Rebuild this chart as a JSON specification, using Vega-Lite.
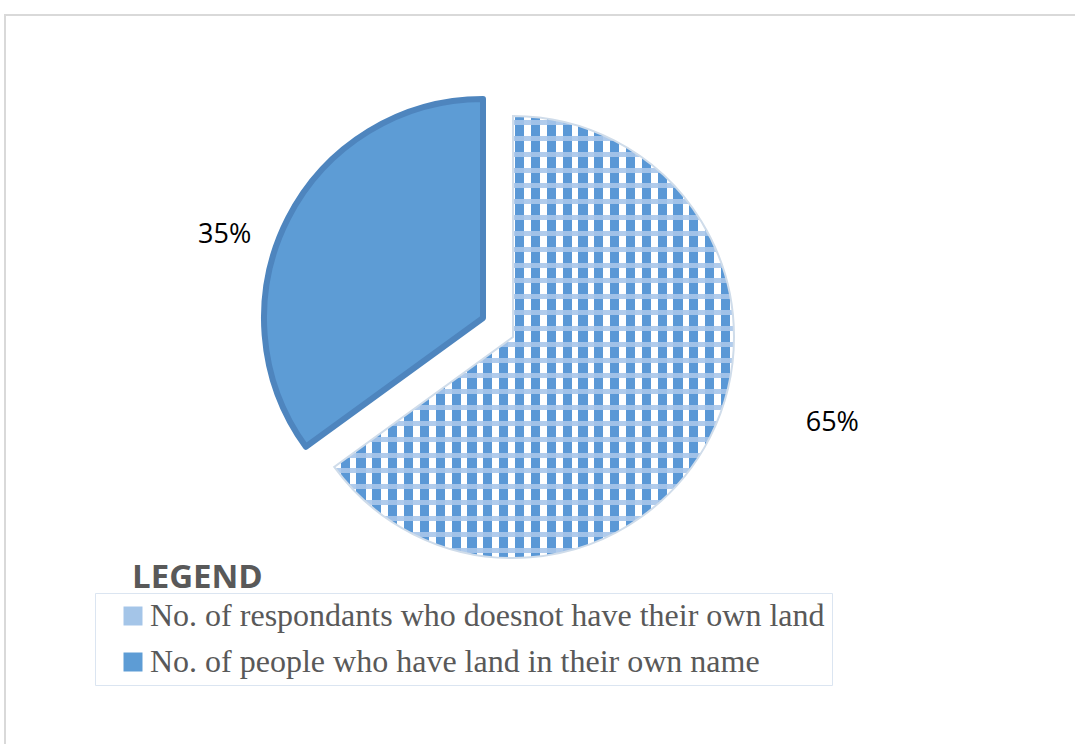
{
  "$schema": "https://vega.github.io/schema/vega-lite/v6.json",
  "width": 1075,
  "height": 744,
  "autosize": {"type": "fit", "contains": "padding"},
  "padding": {"left": 5, "top": 15, "right": -2, "bottom": -2},
  "background": "white",
  "view": {"stroke": "#d9d9d9", "strokeWidth": 2},
  "config": {"view": {"stroke": "#d9d9d9", "strokeWidth": 2}},
  "title": {
    "text": "LEGEND",
    "orient": "none",
    "anchor": "start",
    "font": "Open Sans",
    "fontSize": 33,
    "fontWeight": "bold",
    "color": "#595959",
    "dx": 127,
    "dy": 547
  },
  "data": {
    "values": [
      {"category": "No. of respondants who doesnot have their own land", "share": 0.65},
      {"category": "No. of people who have land in their own name", "share": 0.35}
    ]
  },
  "encoding": {
    "theta": {"field": "share", "type": "quantitative", "stack": true},
    "order": {"field": "share", "type": "quantitative", "sort": "descending"}
  },
  "layer": [
    {
      "mark": {"type": "arc", "outerRadius": 221, "xOffset": -28, "yOffset": -43.5},
      "encoding": {
        "color": {
          "field": "category",
          "type": "nominal",
          "scale": {
            "domain": ["No. of respondants who doesnot have their own land", "No. of people who have land in their own name"],
            "range": ["#a4c5e8", "#5d9cd5"]
          },
          "legend": {
            "orient": "none",
            "legendX": 90,
            "legendY": 578,
            "title": null,
            "labelFont": "Liberation Serif",
            "labelFontSize": 32,
            "labelColor": "#595959",
            "labelLimit": 0,
            "labelOffset": 1,
            "symbolType": "square",
            "symbolSize": 361,
            "symbolStrokeWidth": 0,
            "symbolOffset": 15,
            "rowPadding": 14,
            "padding": 7,
            "strokeColor": "#dbe5f1",
            "fillColor": "white"
          }
        },
        "opacity": {"condition": {"test": "datum.share > 0.5", "value": 1}, "value": 0}
      }
    },
    {
      "mark": {
        "type": "arc", "outerRadius": 221, "xOffset": -28, "yOffset": -43.5,
        "fill": {
          "gradient": "linear", "x1": 0, "y1": 0, "x2": 1, "y2": 0,
          "stops": [
            {"offset": 0, "color": "#ffffff"}, {"offset": 0.0160, "color": "#ffffff"},
            {"offset": 0.0160, "color": "#5a98d6"}, {"offset": 0.0389, "color": "#5a98d6"},
            {"offset": 0.0389, "color": "#ffffff"}, {"offset": 0.0557, "color": "#ffffff"},
            {"offset": 0.0557, "color": "#5a98d6"}, {"offset": 0.0785, "color": "#5a98d6"},
            {"offset": 0.0785, "color": "#ffffff"}, {"offset": 0.0953, "color": "#ffffff"},
            {"offset": 0.0953, "color": "#5a98d6"}, {"offset": 0.1182, "color": "#5a98d6"},
            {"offset": 0.1182, "color": "#ffffff"}, {"offset": 0.1349, "color": "#ffffff"},
            {"offset": 0.1349, "color": "#5a98d6"}, {"offset": 0.1578, "color": "#5a98d6"},
            {"offset": 0.1578, "color": "#ffffff"}, {"offset": 0.1746, "color": "#ffffff"},
            {"offset": 0.1746, "color": "#5a98d6"}, {"offset": 0.1975, "color": "#5a98d6"},
            {"offset": 0.1975, "color": "#ffffff"}, {"offset": 0.2142, "color": "#ffffff"},
            {"offset": 0.2142, "color": "#5a98d6"}, {"offset": 0.2371, "color": "#5a98d6"},
            {"offset": 0.2371, "color": "#ffffff"}, {"offset": 0.2539, "color": "#ffffff"},
            {"offset": 0.2539, "color": "#5a98d6"}, {"offset": 0.2768, "color": "#5a98d6"},
            {"offset": 0.2768, "color": "#ffffff"}, {"offset": 0.2935, "color": "#ffffff"},
            {"offset": 0.2935, "color": "#5a98d6"}, {"offset": 0.3164, "color": "#5a98d6"},
            {"offset": 0.3164, "color": "#ffffff"}, {"offset": 0.3332, "color": "#ffffff"},
            {"offset": 0.3332, "color": "#5a98d6"}, {"offset": 0.3561, "color": "#5a98d6"},
            {"offset": 0.3561, "color": "#ffffff"}, {"offset": 0.3728, "color": "#ffffff"},
            {"offset": 0.3728, "color": "#5a98d6"}, {"offset": 0.3957, "color": "#5a98d6"},
            {"offset": 0.3957, "color": "#ffffff"}, {"offset": 0.4125, "color": "#ffffff"},
            {"offset": 0.4125, "color": "#5a98d6"}, {"offset": 0.4353, "color": "#5a98d6"},
            {"offset": 0.4353, "color": "#ffffff"}, {"offset": 0.4521, "color": "#ffffff"},
            {"offset": 0.4521, "color": "#5a98d6"}, {"offset": 0.4750, "color": "#5a98d6"},
            {"offset": 0.4750, "color": "#ffffff"}, {"offset": 0.4918, "color": "#ffffff"},
            {"offset": 0.4918, "color": "#5a98d6"}, {"offset": 0.5146, "color": "#5a98d6"},
            {"offset": 0.5146, "color": "#ffffff"}, {"offset": 0.5314, "color": "#ffffff"},
            {"offset": 0.5314, "color": "#5a98d6"}, {"offset": 0.5543, "color": "#5a98d6"},
            {"offset": 0.5543, "color": "#ffffff"}, {"offset": 0.5711, "color": "#ffffff"},
            {"offset": 0.5711, "color": "#5a98d6"}, {"offset": 0.5939, "color": "#5a98d6"},
            {"offset": 0.5939, "color": "#ffffff"}, {"offset": 0.6107, "color": "#ffffff"},
            {"offset": 0.6107, "color": "#5a98d6"}, {"offset": 0.6336, "color": "#5a98d6"},
            {"offset": 0.6336, "color": "#ffffff"}, {"offset": 0.6503, "color": "#ffffff"},
            {"offset": 0.6503, "color": "#5a98d6"}, {"offset": 0.6732, "color": "#5a98d6"},
            {"offset": 0.6732, "color": "#ffffff"}, {"offset": 0.6900, "color": "#ffffff"},
            {"offset": 0.6900, "color": "#5a98d6"}, {"offset": 0.7129, "color": "#5a98d6"},
            {"offset": 0.7129, "color": "#ffffff"}, {"offset": 0.7296, "color": "#ffffff"},
            {"offset": 0.7296, "color": "#5a98d6"}, {"offset": 0.7525, "color": "#5a98d6"},
            {"offset": 0.7525, "color": "#ffffff"}, {"offset": 0.7693, "color": "#ffffff"},
            {"offset": 0.7693, "color": "#5a98d6"}, {"offset": 0.7921, "color": "#5a98d6"},
            {"offset": 0.7921, "color": "#ffffff"}, {"offset": 0.8089, "color": "#ffffff"},
            {"offset": 0.8089, "color": "#5a98d6"}, {"offset": 0.8318, "color": "#5a98d6"},
            {"offset": 0.8318, "color": "#ffffff"}, {"offset": 0.8485, "color": "#ffffff"},
            {"offset": 0.8485, "color": "#5a98d6"}, {"offset": 0.8714, "color": "#5a98d6"},
            {"offset": 0.8714, "color": "#ffffff"}, {"offset": 0.8882, "color": "#ffffff"},
            {"offset": 0.8882, "color": "#5a98d6"}, {"offset": 0.9111, "color": "#5a98d6"},
            {"offset": 0.9111, "color": "#ffffff"}, {"offset": 0.9278, "color": "#ffffff"},
            {"offset": 0.9278, "color": "#5a98d6"}, {"offset": 0.9507, "color": "#5a98d6"},
            {"offset": 0.9507, "color": "#ffffff"}, {"offset": 0.9675, "color": "#ffffff"},
            {"offset": 0.9675, "color": "#5a98d6"}, {"offset": 0.9904, "color": "#5a98d6"},
            {"offset": 0.9904, "color": "#ffffff"}, {"offset": 1, "color": "#ffffff"}
          ]
        }
      },
      "encoding": {
        "detail": {"field": "category", "type": "nominal"},
        "opacity": {"condition": {"test": "datum.share > 0.5", "value": 1}, "value": 0}
      }
    },
    {
      "mark": {
        "type": "arc", "outerRadius": 221, "xOffset": -28, "yOffset": -43.5,
        "stroke": "#cfdcea", "strokeWidth": 2,
        "fill": {
          "gradient": "linear", "x1": 0, "y1": 0, "x2": 0, "y2": 1,
          "stops": [
            {"offset": 0, "color": "rgba(168,198,234,0)"}, {"offset": 0.0094, "color": "rgba(168,198,234,0)"},
            {"offset": 0.0094, "color": "rgba(168,198,234,0.9)"}, {"offset": 0.0207, "color": "rgba(168,198,234,0.9)"},
            {"offset": 0.0207, "color": "rgba(168,198,234,0)"}, {"offset": 0.0452, "color": "rgba(168,198,234,0)"},
            {"offset": 0.0452, "color": "rgba(168,198,234,0.9)"}, {"offset": 0.0565, "color": "rgba(168,198,234,0.9)"},
            {"offset": 0.0565, "color": "rgba(168,198,234,0)"}, {"offset": 0.0810, "color": "rgba(168,198,234,0)"},
            {"offset": 0.0810, "color": "rgba(168,198,234,0.9)"}, {"offset": 0.0923, "color": "rgba(168,198,234,0.9)"},
            {"offset": 0.0923, "color": "rgba(168,198,234,0)"}, {"offset": 0.1168, "color": "rgba(168,198,234,0)"},
            {"offset": 0.1168, "color": "rgba(168,198,234,0.9)"}, {"offset": 0.1281, "color": "rgba(168,198,234,0.9)"},
            {"offset": 0.1281, "color": "rgba(168,198,234,0)"}, {"offset": 0.1526, "color": "rgba(168,198,234,0)"},
            {"offset": 0.1526, "color": "rgba(168,198,234,0.9)"}, {"offset": 0.1639, "color": "rgba(168,198,234,0.9)"},
            {"offset": 0.1639, "color": "rgba(168,198,234,0)"}, {"offset": 0.1884, "color": "rgba(168,198,234,0)"},
            {"offset": 0.1884, "color": "rgba(168,198,234,0.9)"}, {"offset": 0.1997, "color": "rgba(168,198,234,0.9)"},
            {"offset": 0.1997, "color": "rgba(168,198,234,0)"}, {"offset": 0.2243, "color": "rgba(168,198,234,0)"},
            {"offset": 0.2243, "color": "rgba(168,198,234,0.9)"}, {"offset": 0.2356, "color": "rgba(168,198,234,0.9)"},
            {"offset": 0.2356, "color": "rgba(168,198,234,0)"}, {"offset": 0.2601, "color": "rgba(168,198,234,0)"},
            {"offset": 0.2601, "color": "rgba(168,198,234,0.9)"}, {"offset": 0.2714, "color": "rgba(168,198,234,0.9)"},
            {"offset": 0.2714, "color": "rgba(168,198,234,0)"}, {"offset": 0.2959, "color": "rgba(168,198,234,0)"},
            {"offset": 0.2959, "color": "rgba(168,198,234,0.9)"}, {"offset": 0.3072, "color": "rgba(168,198,234,0.9)"},
            {"offset": 0.3072, "color": "rgba(168,198,234,0)"}, {"offset": 0.3317, "color": "rgba(168,198,234,0)"},
            {"offset": 0.3317, "color": "rgba(168,198,234,0.9)"}, {"offset": 0.3430, "color": "rgba(168,198,234,0.9)"},
            {"offset": 0.3430, "color": "rgba(168,198,234,0)"}, {"offset": 0.3675, "color": "rgba(168,198,234,0)"},
            {"offset": 0.3675, "color": "rgba(168,198,234,0.9)"}, {"offset": 0.3788, "color": "rgba(168,198,234,0.9)"},
            {"offset": 0.3788, "color": "rgba(168,198,234,0)"}, {"offset": 0.4033, "color": "rgba(168,198,234,0)"},
            {"offset": 0.4033, "color": "rgba(168,198,234,0.9)"}, {"offset": 0.4146, "color": "rgba(168,198,234,0.9)"},
            {"offset": 0.4146, "color": "rgba(168,198,234,0)"}, {"offset": 0.4391, "color": "rgba(168,198,234,0)"},
            {"offset": 0.4391, "color": "rgba(168,198,234,0.9)"}, {"offset": 0.4504, "color": "rgba(168,198,234,0.9)"},
            {"offset": 0.4504, "color": "rgba(168,198,234,0)"}, {"offset": 0.4750, "color": "rgba(168,198,234,0)"},
            {"offset": 0.4750, "color": "rgba(168,198,234,0.9)"}, {"offset": 0.4863, "color": "rgba(168,198,234,0.9)"},
            {"offset": 0.4863, "color": "rgba(168,198,234,0)"}, {"offset": 0.5108, "color": "rgba(168,198,234,0)"},
            {"offset": 0.5108, "color": "rgba(168,198,234,0.9)"}, {"offset": 0.5221, "color": "rgba(168,198,234,0.9)"},
            {"offset": 0.5221, "color": "rgba(168,198,234,0)"}, {"offset": 0.5466, "color": "rgba(168,198,234,0)"},
            {"offset": 0.5466, "color": "rgba(168,198,234,0.9)"}, {"offset": 0.5579, "color": "rgba(168,198,234,0.9)"},
            {"offset": 0.5579, "color": "rgba(168,198,234,0)"}, {"offset": 0.5824, "color": "rgba(168,198,234,0)"},
            {"offset": 0.5824, "color": "rgba(168,198,234,0.9)"}, {"offset": 0.5937, "color": "rgba(168,198,234,0.9)"},
            {"offset": 0.5937, "color": "rgba(168,198,234,0)"}, {"offset": 0.6182, "color": "rgba(168,198,234,0)"},
            {"offset": 0.6182, "color": "rgba(168,198,234,0.9)"}, {"offset": 0.6295, "color": "rgba(168,198,234,0.9)"},
            {"offset": 0.6295, "color": "rgba(168,198,234,0)"}, {"offset": 0.6540, "color": "rgba(168,198,234,0)"},
            {"offset": 0.6540, "color": "rgba(168,198,234,0.9)"}, {"offset": 0.6653, "color": "rgba(168,198,234,0.9)"},
            {"offset": 0.6653, "color": "rgba(168,198,234,0)"}, {"offset": 0.6898, "color": "rgba(168,198,234,0)"},
            {"offset": 0.6898, "color": "rgba(168,198,234,0.9)"}, {"offset": 0.7011, "color": "rgba(168,198,234,0.9)"},
            {"offset": 0.7011, "color": "rgba(168,198,234,0)"}, {"offset": 0.7256, "color": "rgba(168,198,234,0)"},
            {"offset": 0.7256, "color": "rgba(168,198,234,0.9)"}, {"offset": 0.7370, "color": "rgba(168,198,234,0.9)"},
            {"offset": 0.7370, "color": "rgba(168,198,234,0)"}, {"offset": 0.7615, "color": "rgba(168,198,234,0)"},
            {"offset": 0.7615, "color": "rgba(168,198,234,0.9)"}, {"offset": 0.7728, "color": "rgba(168,198,234,0.9)"},
            {"offset": 0.7728, "color": "rgba(168,198,234,0)"}, {"offset": 0.7973, "color": "rgba(168,198,234,0)"},
            {"offset": 0.7973, "color": "rgba(168,198,234,0.9)"}, {"offset": 0.8086, "color": "rgba(168,198,234,0.9)"},
            {"offset": 0.8086, "color": "rgba(168,198,234,0)"}, {"offset": 0.8331, "color": "rgba(168,198,234,0)"},
            {"offset": 0.8331, "color": "rgba(168,198,234,0.9)"}, {"offset": 0.8444, "color": "rgba(168,198,234,0.9)"},
            {"offset": 0.8444, "color": "rgba(168,198,234,0)"}, {"offset": 0.8689, "color": "rgba(168,198,234,0)"},
            {"offset": 0.8689, "color": "rgba(168,198,234,0.9)"}, {"offset": 0.8802, "color": "rgba(168,198,234,0.9)"},
            {"offset": 0.8802, "color": "rgba(168,198,234,0)"}, {"offset": 0.9047, "color": "rgba(168,198,234,0)"},
            {"offset": 0.9047, "color": "rgba(168,198,234,0.9)"}, {"offset": 0.9160, "color": "rgba(168,198,234,0.9)"},
            {"offset": 0.9160, "color": "rgba(168,198,234,0)"}, {"offset": 0.9405, "color": "rgba(168,198,234,0)"},
            {"offset": 0.9405, "color": "rgba(168,198,234,0.9)"}, {"offset": 0.9518, "color": "rgba(168,198,234,0.9)"},
            {"offset": 0.9518, "color": "rgba(168,198,234,0)"}, {"offset": 0.9763, "color": "rgba(168,198,234,0)"},
            {"offset": 0.9763, "color": "rgba(168,198,234,0.9)"}, {"offset": 0.9876, "color": "rgba(168,198,234,0.9)"},
            {"offset": 0.9876, "color": "rgba(168,198,234,0)"}, {"offset": 1, "color": "rgba(168,198,234,0)"}
          ]
        }
      },
      "encoding": {
        "detail": {"field": "category", "type": "nominal"},
        "opacity": {"condition": {"test": "datum.share > 0.5", "value": 1}, "value": 0}
      }
    },
    {
      "mark": {"type": "arc", "outerRadius": 219, "xOffset": -58, "yOffset": -62.5, "stroke": "#4e85be", "strokeWidth": 6, "strokeJoin": "round"},
      "encoding": {
        "color": {"field": "category", "type": "nominal"},
        "opacity": {"condition": {"test": "datum.share < 0.5", "value": 1}, "value": 0}
      }
    },
    {
      "mark": {"type": "text", "radius": 300, "dx": 24, "dy": -94, "font": "Open Sans", "fontSize": 27, "fill": "#000000", "align": "center", "baseline": "middle"},
      "encoding": {
        "detail": {"field": "category", "type": "nominal"},
        "text": {"field": "share", "type": "quantitative", "format": ".0%"},
        "opacity": {"condition": {"test": "datum.share > 0.5", "value": 1}, "value": 0}
      }
    },
    {
      "mark": {"type": "text", "radius": 300, "dx": -49, "dy": -9, "font": "Open Sans", "fontSize": 27, "fill": "#000000", "align": "center", "baseline": "middle"},
      "encoding": {
        "detail": {"field": "category", "type": "nominal"},
        "text": {"field": "share", "type": "quantitative", "format": ".0%"},
        "opacity": {"condition": {"test": "datum.share < 0.5", "value": 1}, "value": 0}
      }
    }
  ]
}
